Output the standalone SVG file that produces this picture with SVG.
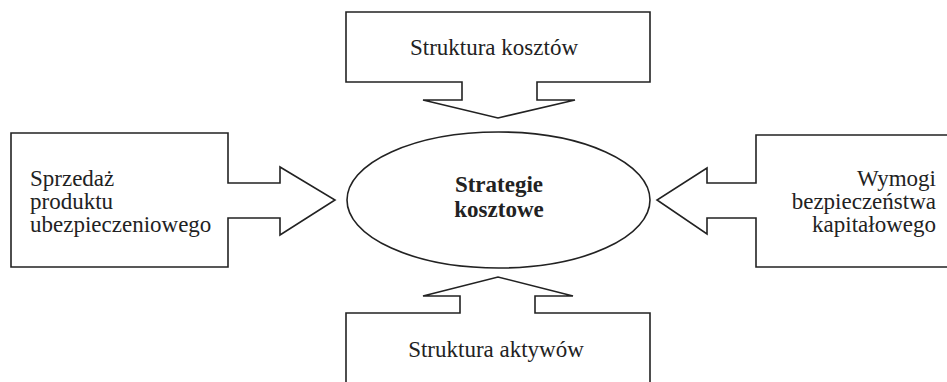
<svg xmlns="http://www.w3.org/2000/svg" width="947" height="382" viewBox="0 0 947 382">
<style>
.shape{fill:#fff;stroke:#222;stroke-width:1.6;stroke-linejoin:miter}
.t{font-family:"Liberation Serif","Times New Roman",serif;font-size:23px;fill:#222}
.b{font-weight:bold}
</style>
<rect width="947" height="382" fill="#fff"/>
<g id="connectors"></g>
<g id="node-top">
<path class="shape" d="M346,12 H650 V82 H537 V100 H575 L498,118 L423,100 H462 V82 H346 Z"/>
<text class="t" x="494" y="55" text-anchor="middle">Struktura kosztów</text>
</g>
<g id="node-left">
<path class="shape" d="M11,133 H228 V183 H280 V167 L335,200 L280,235 V218 H228 V267 H11 Z"/>
<text class="t" x="30" y="186">Sprzedaż</text>
<text class="t" x="30" y="209">produktu</text>
<text class="t" x="30" y="232">ubezpieczeniowego</text>
</g>
<g id="node-right">
<path class="shape" d="M960,135 H756 V183 H707 V168 L657,200 L707,234 V218 H756 V267 H960"/>
<text class="t" x="936" y="186" text-anchor="end">Wymogi</text>
<text class="t" x="936" y="209" text-anchor="end">bezpieczeństwa</text>
<text class="t" x="936" y="232" text-anchor="end">kapitałowego</text>
</g>
<g id="node-bottom">
<path class="shape" d="M346,400 V313 H460 V296 H423 L498,277 L573,296 H535 V313 H650 V400"/>
<text class="t" x="496" y="357" text-anchor="middle">Struktura aktywów</text>
</g>
<g id="node-center">
<ellipse class="shape" cx="498.5" cy="200" rx="151.5" ry="68"/>
<text class="t b" x="499" y="192" text-anchor="middle">Strategie</text>
<text class="t b" x="499" y="217" text-anchor="middle">kosztowe</text>
</g>
</svg>
